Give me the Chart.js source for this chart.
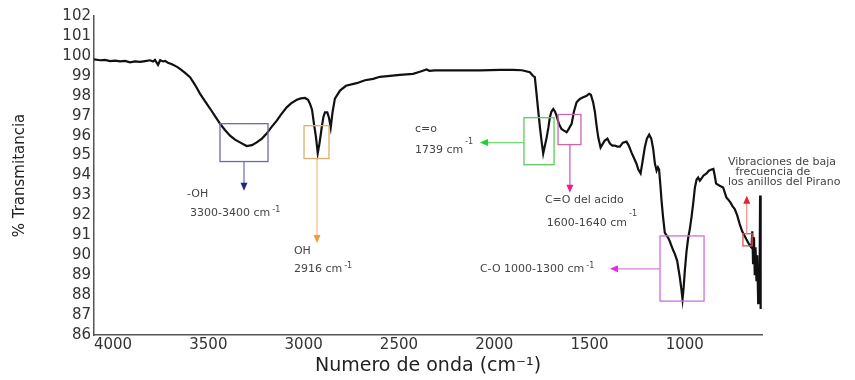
<!DOCTYPE html>
<html>
<head>
<meta charset="utf-8">
<script src="https://cdn.jsdelivr.net/npm/chart.js@4.4.1/dist/chart.umd.min.js"></script>
<style>
  body { margin: 0; background: #fff; }
  #wrap { width: 855px; height: 380px; }
</style>
</head>
<body>
<div id="wrap"><canvas id="ftir"></canvas></div>
<script>
// Spectrum: wavenumber (cm-1) and % transmittance
const waveNumbers = [
  4100, 4068, 4042, 4016, 3990, 3963, 3937, 3911, 3885, 3858,
  3832, 3806, 3790, 3780, 3764, 3753, 3738, 3727, 3712, 3691,
  3664, 3649, 3622, 3596, 3570, 3544, 3517, 3491, 3465, 3439,
  3413, 3386, 3360, 3334, 3299, 3271, 3246, 3219, 3194, 3171,
  3141, 3119, 3089, 3066, 3036, 3014, 2993, 2977, 2967, 2956,
  2946, 2935, 2926, 2917, 2905, 2896, 2888, 2876, 2867, 2858,
  2848, 2836, 2809, 2778, 2722, 2678, 2635, 2600, 2547, 2495,
  2426, 2390, 2355, 2340, 2311, 2250, 2180, 2075, 1970, 1902,
  1855, 1813, 1797, 1787, 1779, 1771, 1760, 1750, 1743, 1734,
  1725, 1716, 1708, 1700, 1690, 1681, 1673, 1661, 1647, 1634,
  1620, 1608, 1594, 1582, 1568, 1551, 1533, 1515, 1502, 1493,
  1481, 1472, 1463, 1454, 1442, 1430, 1420, 1406, 1393, 1380,
  1367, 1354, 1341, 1325, 1306, 1294, 1280, 1268, 1253, 1244,
  1232, 1220, 1210, 1199, 1187, 1176, 1166, 1157, 1148, 1141,
  1135, 1128, 1122, 1114, 1105, 1096, 1088, 1079, 1070, 1061,
  1052, 1040, 1033, 1026, 1018, 1012, 1006, 1000, 991, 982,
  974, 965, 956, 947, 938, 930, 921, 912, 903, 886,
  874, 860, 850, 843, 836, 831, 817, 799, 782, 773,
  761, 749, 738, 725, 712, 699, 686, 677, 668, 659,
  650, 646, 642, 637, 633, 629, 624, 620, 615, 612,
  608, 605, 602
]
const transmittance = [
  99.82, 99.78, 99.80, 99.74, 99.76, 99.72, 99.75, 99.68, 99.72, 99.70,
  99.74, 99.78, 99.72, 99.80, 99.55, 99.78, 99.72, 99.75, 99.66, 99.58,
  99.45, 99.35, 99.15, 98.93, 98.55, 98.11, 97.72, 97.36, 96.98, 96.60,
  96.28, 96.00, 95.80, 95.66, 95.48, 95.52, 95.66, 95.85, 96.10, 96.40,
  96.75, 97.05, 97.42, 97.62, 97.80, 97.87, 97.89, 97.80, 97.60, 97.30,
  96.60, 95.90, 95.12, 95.60, 96.42, 96.95, 97.17, 97.17, 96.90, 96.40,
  97.20, 97.86, 98.26, 98.50, 98.63, 98.78, 98.85, 98.95, 99.00, 99.05,
  99.10, 99.20, 99.32, 99.25, 99.27, 99.27, 99.28, 99.27, 99.30, 99.30,
  99.28, 99.18, 99.00, 98.93, 98.20, 97.42, 96.40, 95.60, 95.10, 95.50,
  95.90, 96.40, 96.92, 97.20, 97.34, 97.20, 97.00, 96.60, 96.33, 96.25,
  96.17, 96.35, 96.59, 97.20, 97.67, 97.84, 97.92, 98.00, 98.10, 98.05,
  97.67, 97.20, 96.50, 95.90, 95.40, 95.60, 95.75, 95.85, 95.60, 95.50,
  95.50, 95.45, 95.45, 95.65, 95.70, 95.50, 95.16, 94.90, 94.58, 94.30,
  94.11, 94.80, 95.41, 95.85, 96.05, 95.85, 95.33, 94.60, 94.24, 94.41,
  94.30, 93.50, 92.73, 91.90, 91.14, 91.00, 90.89, 90.70, 90.47, 90.25,
  90.06, 89.72, 89.30, 88.88, 88.30, 87.79, 88.40, 89.22, 90.20, 90.89,
  91.30, 91.90, 92.60, 93.40, 93.80, 93.90, 93.74, 93.85, 93.99, 94.10,
  94.24, 94.30, 94.33, 94.00, 93.60, 93.57, 93.49, 93.40, 92.90, 92.80,
  92.65, 92.45, 92.32, 92.00, 91.56, 91.20, 90.97, 90.80, 90.64, 90.50,
  90.39, 91.20, 89.60, 90.90, 89.00, 90.40, 88.70, 90.00, 87.60, 89.20,
  88.30, 93.00, 87.30
]
const xTicks = [4000, 3500, 3000, 2500, 2000, 1500, 1000]
const yTicks = [86, 87, 88, 89, 90, 91, 92, 93, 94, 95, 96, 97, 98, 99, 100, 101, 102]

// Band annotations, given in wavenumber / %T so they follow the scales
const boxes = [
  { x1: 3439, x2: 3187, y1: 96.6, y2: 94.7, color: '#6b6ba8' },
  { x1: 2998, x2: 2867, y1: 96.5, y2: 94.85, color: '#dcae6e' },
  { x1: 1844, x2: 1686, y1: 96.9, y2: 94.54, color: '#5ccc5c' },
  { x1: 1665, x2: 1545, y1: 97.06, y2: 95.55, color: '#cc66aa' },
  { x1: 1130, x2: 899, y1: 90.97, y2: 87.7, color: '#cc70dd' },
  { x1: 695, x2: 647, y1: 91.08, y2: 90.47, color: '#dd5555' }
]
const arrows = [
  { x1: 3313, y1: 94.7, x2: 3313, y2: 93.24, line: '#6a6ab0', head: '#1f2a80' },
  { x1: 2930, y1: 94.85, x2: 2930, y2: 90.62, line: '#f2bb80', head: '#f39a3a' },
  { x1: 1844, y1: 95.65, x2: 2075, y2: 95.65, line: '#70dd70', head: '#22cc33' },
  { x1: 1603, y1: 95.55, x2: 1603, y2: 93.14, line: '#cc55aa', head: '#e8208a' },
  { x1: 1130, y1: 89.32, x2: 1393, y2: 89.32, line: '#dd80dd', head: '#ee22ee' },
  { x1: 675, y1: 91.08, x2: 675, y2: 92.98, line: '#ee8888', head: '#e02828' }
]
const notes = [
  { x: 3612, y: 93.09, text: '-OH' },
  { x: 3596, y: 92.13, text: '3300-3400 cm', sup: '-1', rise: 3 },
  { x: 3051, y: 90.22, text: 'OH' },
  { x: 3051, y: 89.32, text: '2916 cm', sup: '-1', rise: 3 },
  { x: 2416, y: 96.35, text: 'c=o' },
  { x: 2416, y: 95.25, text: '1739 cm', sup: '-1', rise: 9 },
  { x: 1734, y: 92.78, text: 'C=O del acido' },
  { x: 1724, y: 91.63, text: '1600-1640 cm', sup: '-1', rise: 9 },
  { x: 2075, y: 89.32, text: 'C-O 1000-1300 cm', sup: '-1', rise: 3 },
  { x: 774, y: 94.69, text: 'Vibraciones de baja' },
  { x: 753, y: 94.19, text: ' frecuencia de' },
  { x: 774, y: 93.69, text: 'los anillos del Pirano' }
]

const font = 'DejaVu Sans'

function drawArrow(ctx, ax, ay, bx, by, lineColor, headColor) {
  const a = Math.atan2(by - ay, bx - ax)
  const c = Math.cos(a), s = Math.sin(a)
  ctx.strokeStyle = lineColor
  ctx.lineWidth = 1.2
  ctx.beginPath()
  ctx.moveTo(ax, ay)
  ctx.lineTo(bx - c * 5, by - s * 5)
  ctx.stroke()
  ctx.fillStyle = headColor
  ctx.beginPath()
  ctx.moveTo(bx, by)
  ctx.lineTo(bx - 8 * c + 3.5 * s, by - 8 * s - 3.5 * c)
  ctx.lineTo(bx - 8 * c - 3.5 * s, by - 8 * s + 3.5 * c)
  ctx.closePath()
  ctx.fill()
}

const bandNotes = {
  id: 'bandNotes',
  afterDatasetsDraw(chart) {
    const { ctx, scales: { x, y } } = chart
    ctx.save()
    boxes.forEach(b => {
      const l = x.getPixelForValue(b.x1), r = x.getPixelForValue(b.x2)
      const t = y.getPixelForValue(b.y1), btm = y.getPixelForValue(b.y2)
      ctx.strokeStyle = b.color
      ctx.lineWidth = 1.3
      ctx.strokeRect(Math.min(l, r), Math.min(t, btm), Math.abs(r - l), Math.abs(btm - t))
    })
    arrows.forEach(a => {
      drawArrow(ctx, x.getPixelForValue(a.x1), y.getPixelForValue(a.y1),
        x.getPixelForValue(a.x2), y.getPixelForValue(a.y2), a.line, a.head)
    })
    ctx.fillStyle = '#444'
    ctx.textAlign = 'left'
    ctx.textBaseline = 'middle'
    notes.forEach(n => {
      const px = x.getPixelForValue(n.x), py = y.getPixelForValue(n.y)
      ctx.font = '11px "' + font + '"'
      ctx.fillText(n.text, px, py)
      if (n.sup) {
        const w = ctx.measureText(n.text).width
        ctx.font = '8px "' + font + '"'
        ctx.fillText(n.sup, px + w + 2, py - n.rise)
      }
    })
    ctx.restore()
  }
}

new Chart(document.getElementById('ftir'), {
  type: 'line',
  data: {
    datasets: [{
      data: waveNumbers.map((w, i) => ({ x: w, y: transmittance[i] })),
      borderColor: '#111',
      borderWidth: 2.2,
      pointRadius: 0,
      tension: 0,
      fill: false
    }]
  },
  options: {
    responsive: true,
    maintainAspectRatio: false,
    animation: false,
    layout: { padding: { left: 0, right: 93, top: 16, bottom: 0 } },
    plugins: {
      legend: { display: false },
      tooltip: { enabled: false }
    },
    scales: {
      x: {
        type: 'linear',
        reverse: true,
        min: 595,
        max: 4100,
        afterBuildTicks: axis => { axis.ticks = xTicks.map(v => ({ value: v })) },
        afterFit: axis => { axis.height = 45 },
        grid: { display: false, drawTicks: false },
        border: { display: true, color: '#555', width: 1.5 },
        ticks: {
          font: { family: font, size: 15 },
          color: '#333',
          padding: 1,
          maxRotation: 0,
          autoSkip: false,
          callback: v => String(v)
        },
        title: {
          display: true,
          text: 'Numero de onda (cm⁻¹)',
          font: { family: font, size: 19 },
          color: '#222',
          padding: { top: 0, bottom: 3 }
        }
      },
      y: {
        min: 86,
        max: 102,
        afterBuildTicks: axis => { axis.ticks = yTicks.map(v => ({ value: v })) },
        afterFit: axis => { axis.width = 94 },
        grid: { display: false, drawTicks: false },
        border: { display: true, color: '#555', width: 1.5 },
        ticks: {
          font: { family: font, size: 15 },
          color: '#333',
          padding: 3,
          autoSkip: false,
          callback: v => String(v)
        },
        title: {
          display: true,
          text: '% Transmitancia',
          font: { family: font, size: 15 },
          color: '#222',
          padding: { top: 11, bottom: 0 }
        }
      }
    }
  },
  plugins: [bandNotes]
})
</script>
</body>
</html>
